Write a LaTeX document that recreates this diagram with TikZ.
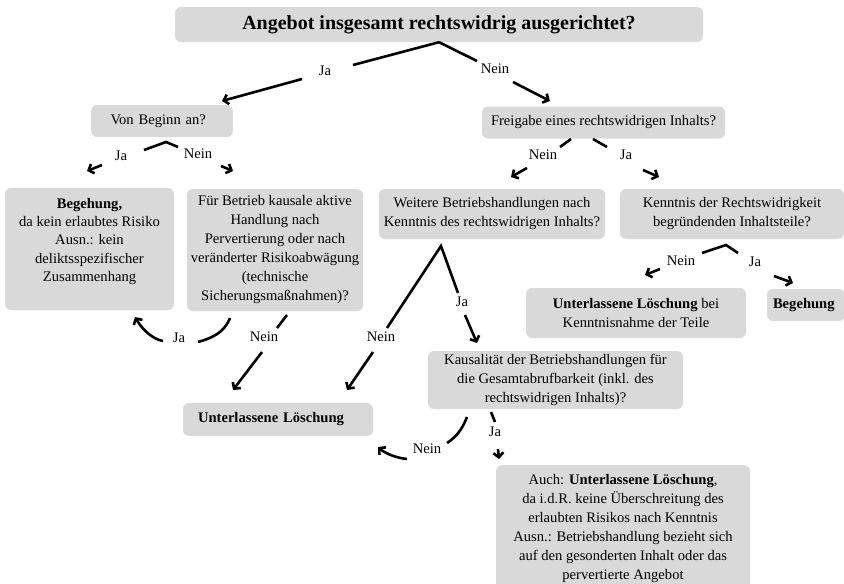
\documentclass[tikz,border=0pt]{standalone}
\usepackage{fontspec}
\setmainfont{Liberation Serif}
\usetikzlibrary{arrows.meta}
\definecolor{boxgray}{RGB}{217,217,217}
\begin{document}
\begin{tikzpicture}[x=1pt,y=-1pt,
  box/.style={fill=boxgray, rounded corners=6pt, inner sep=0pt, align=center, font=\fontsize{14.6}{19}\selectfont},
  lab/.style={inner sep=0pt, font=\fontsize{14.6}{19}\selectfont},
  conn/.style={line width=2.6pt},
  arr/.style={conn,-{Straight Barb[length=4.5pt,width=10pt]}}]
\useasboundingbox (0,0) rectangle (844,584);

% boxes
\node[box, minimum width=528pt, minimum height=35pt, font=\fontsize{20}{24}\selectfont\bfseries] (T) at (439,24.5) {Angebot insgesamt rechtswidrig ausgerichtet?};
\node[box, text width=103pt, inner xsep=19.3pt, minimum height=32pt, align=left] (V) at (162,121) {Von Beginn an?};
\node[box, minimum width=243pt, minimum height=32pt] (F) at (603.5,122.5) {Freigabe eines rechtswidrigen Inhalts?};
\node[box, minimum width=169pt, minimum height=122pt, font=\fontsize{14.6}{18.3}\selectfont] (B1) at (89.5,249) {\textbf{Begehung,}\\da kein erlaubtes Risiko\\Ausn.: kein\\deliktsspezifischer\\Zusammenhang\\\mbox{}};
\node[box, minimum width=176pt, minimum height=122pt] (FB) at (275,250) {F\"ur Betrieb kausale aktive\\Handlung nach\\Pervertierung oder nach\\ver\"anderter Risikoabw\"agung\\(technische\\Sicherungsma\ss nahmen)?};
\node[box, minimum width=226pt, minimum height=50pt] (W) at (492,214) {Weitere Betriebshandlungen nach\\Kenntnis des rechtswidrigen Inhalts?};
\node[box, minimum width=224pt, minimum height=50pt] (K) at (732,214) {Kenntnis der Rechtswidrigkeit\\begr\"undenden Inhaltsteile?};
\node[box, minimum width=220pt, minimum height=50pt] (UB) at (636,313) {\textbf{Unterlassene L\"oschung} bei\\Kenntnisnahme der Teile};
\node[box, text width=66pt, inner xsep=6pt, minimum height=32pt, align=left] (BG) at (806,305) {\textbf{Begehung}};
\node[box, minimum width=255pt, minimum height=58pt] (KA) at (555.5,380) {Kausalit\"at der Betriebshandlungen f\"ur\\die Gesamtabrufbarkeit (inkl. des\\rechtswidrigen Inhalts)?};
\node[box, text width=160pt, inner xsep=15pt, minimum height=33pt, align=left] (UL) at (278,419.5) {\textbf{Unterlassene L\"oschung}};
\node[box, anchor=north, minimum width=254pt, minimum height=127pt] (A) at (623,465) {Auch: \textbf{Unterlassene L\"oschung},\\da i.d.R. keine \"Uberschreitung des\\erlaubten Risikos nach Kenntnis\\Ausn.: Betriebshandlung bezieht sich\\auf den gesonderten Inhalt oder das\\pervertierte Angebot};

% labels
\node[lab] (jaT) at (325,71) {Ja};
\node[lab] (neinT) at (495,69) {Nein};
\node[lab] (jaV) at (121,156) {Ja};
\node[lab] (neinV) at (198,154) {Nein};
\node[lab] (neinF) at (543,155) {Nein};
\node[lab] (jaF) at (626,155) {Ja};
\node[lab] (neinK) at (681,261) {Nein};
\node[lab] (jaK) at (755,262) {Ja};
\node[lab] (neinW) at (381,337) {Nein};
\node[lab] (jaW) at (462,302) {Ja};
\node[lab] (jaFB) at (179,338) {Ja};
\node[lab] (neinFB) at (264,337) {Nein};
\node[lab] (neinKA) at (427,449) {Nein};
\node[lab] (jaKA) at (495,432) {Ja};

% coordinates
\coordinate (tJa1) at (353,65); \coordinate (tJa2) at (302,79); \coordinate (tJaE) at (222,101);
\coordinate (tN1) at (477,61); \coordinate (tN2) at (513,82); \coordinate (tNE) at (550,101);
\coordinate (vA) at (166,142);
\coordinate (vJ1) at (144,150); \coordinate (vJ2) at (102,165); \coordinate (vJE) at (87,171);
\coordinate (vN1) at (178,147); \coordinate (vN2) at (221,166); \coordinate (vNE) at (233,171);
\coordinate (fN0) at (571,139); \coordinate (fN1) at (560,147); \coordinate (fN2) at (527,168); \coordinate (fNE) at (511,177);
\coordinate (fJ0) at (593,139); \coordinate (fJ1) at (607,147); \coordinate (fJ2) at (643,170); \coordinate (fJE) at (659,177);
\coordinate (kA) at (726,245);
\coordinate (kN1) at (702,253); \coordinate (kN2) at (660,269); \coordinate (kNE) at (645,275);
\coordinate (kJ1) at (738,253); \coordinate (kJ2) at (774,276); \coordinate (kJE) at (793,283);
\coordinate (wA) at (441,246);
\coordinate (wN1) at (387,328); \coordinate (wN2) at (373,352); \coordinate (wNE) at (347,390);
\coordinate (wJ1) at (458,293); \coordinate (wJ2) at (465,315); \coordinate (wJE) at (477,343);
\coordinate (fbJ0) at (230,318); \coordinate (fbJ1) at (198,342); \coordinate (fbJ2) at (163,341); \coordinate (fbJE) at (135,317);
\coordinate (fbN0) at (287,315); \coordinate (fbN1) at (277,328); \coordinate (fbN2) at (262,352); \coordinate (fbNE) at (233,390);
\coordinate (kaN0) at (467,417); \coordinate (kaN1) at (447,443); \coordinate (kaN2) at (407,459); \coordinate (kaNE) at (378,447);
\coordinate (kaJ0) at (491,412); \coordinate (kaJ1) at (495,422); \coordinate (kaJ2) at (498,449); \coordinate (kaJE) at (499,459);

% connectors
\draw[conn] (T.south) -- (tJa1); \draw[arr] (tJa2) -- (tJaE);
\draw[conn] (T.south) -- (tN1); \draw[arr] (tN2) -- (tNE);
\draw[conn] (vJ1) -- (vA) -- (vN1);
\draw[arr] (vJ2) -- (vJE); \draw[arr] (vN2) -- (vNE);
\draw[conn] (fN0) -- (fN1); \draw[arr] (fN2) -- (fNE);
\draw[conn] (fJ0) -- (fJ1); \draw[arr] (fJ2) -- (fJE);
\draw[conn] (kN1) -- (kA) -- (kJ1);
\draw[arr] (kN2) -- (kNE); \draw[arr] (kJ2) -- (kJE);
\draw[conn] (wN1) -- (wA) -- (wJ1);
\draw[arr] (wN2) -- (wNE); \draw[arr] (wJ2) -- (wJE);
\draw[conn] (fbJ0) .. controls (224,333) and (212,338) .. (fbJ1);
\draw[arr] (fbJ2) .. controls (152,339) and (142,329) .. (fbJE);
\draw[conn] (fbN0) -- (fbN1); \draw[arr] (fbN2) -- (fbNE);
\draw[conn] (kaN0) .. controls (462,430) and (456,437) .. (kaN1);
\draw[arr] (kaN2) .. controls (397,458) and (386,454) .. (kaNE);
\draw[conn] (kaJ0) -- (kaJ1); \draw[arr] (kaJ2) -- (kaJE);
\end{tikzpicture}
\end{document}
